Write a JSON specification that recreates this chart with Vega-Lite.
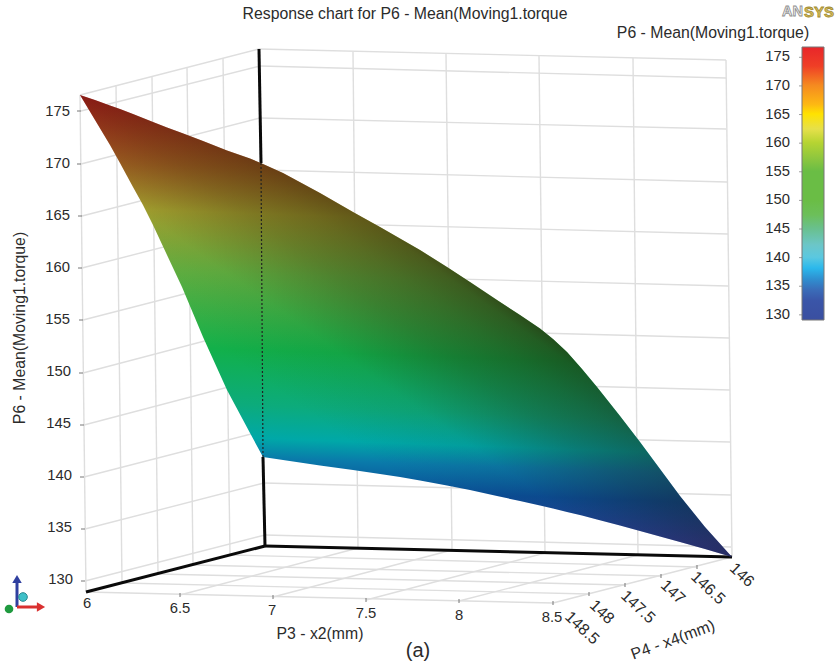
{
"$schema":"https://vega.github.io/schema/vega-lite/v6.json",
"width":836,"height":669,"padding":0,"autosize":{"type":"none"},"background":"white",
"config":{"view":{"stroke":null},"text":{"font":"Liberation Sans","fontSize":14.8,"color":"#2b2b2b"}},
"datasets":{
"surface":[{"px":80,"top":95,"bot":95},{"px":95,"top":100,"bot":120},{"px":110,"top":105.5,"bot":145},{"px":120,"top":109,"bot":163},{"px":133,"top":114,"bot":187},{"px":143,"top":118,"bot":205},{"px":153,"top":122,"bot":225},{"px":167,"top":127.5,"bot":255},{"px":182,"top":133,"bot":287},{"px":203,"top":141,"bot":337},{"px":227,"top":150.5,"bot":390},{"px":250,"top":158.5,"bot":433},{"px":263,"top":164,"bot":457},{"px":283,"top":173,"bot":460},{"px":320,"top":193,"bot":465.5},{"px":353,"top":212,"bot":470},{"px":380,"top":227,"bot":474},{"px":400,"top":238.5,"bot":477},{"px":420,"top":250,"bot":480.5},{"px":447,"top":267,"bot":485.5},{"px":470,"top":282,"bot":490},{"px":497,"top":300,"bot":496},{"px":520,"top":315,"bot":501},{"px":540,"top":328.5,"bot":505.5},{"px":553,"top":339,"bot":508.5},{"px":567,"top":352,"bot":512},{"px":582,"top":369,"bot":515.5},{"px":597,"top":387,"bot":519.5},{"px":620,"top":416,"bot":525.5},{"px":640,"top":442,"bot":531},{"px":660,"top":469,"bot":536.5},{"px":680,"top":496,"bot":542},{"px":705,"top":527,"bot":549},{"px":732,"top":557,"bot":557}],
"grid":[
{"px":80,"py":95,"qx":86,"qy":592},{"px":726,"py":60,"qx":732,"qy":557},{"px":80,"py":95,"qx":259,"qy":49},{"px":259,"py":49,"qx":726,"qy":60},
{"px":116,"py":85,"qx":122,"qy":583},{"px":152,"py":77,"qx":158,"qy":574},{"px":187,"py":67,"qx":193,"qy":565},{"px":223,"py":58,"qx":230,"qy":555},
{"px":353,"py":52,"qx":358,"qy":548},{"px":446,"py":54,"qx":452,"qy":550},{"px":539,"py":56,"qx":545,"qy":553},{"px":633,"py":58,"qx":638,"qy":555},
{"px":81,"py":111,"qx":260,"qy":66},{"px":81,"py":164,"qx":260,"qy":118},{"px":82,"py":216,"qx":261,"qy":170},{"px":82,"py":268,"qx":261,"qy":222},{"px":83,"py":320,"qx":262,"qy":274},{"px":83,"py":373,"qx":262,"qy":326},{"px":84,"py":425,"qx":263,"qy":378},{"px":84,"py":477,"qx":263,"qy":431},{"px":85,"py":529,"qx":264,"qy":483},{"px":85,"py":581,"qx":265,"qy":535},
{"px":260,"py":66,"qx":726,"qy":78},{"px":260,"py":118,"qx":726,"qy":129},{"px":261,"py":170,"qx":727,"qy":182},{"px":261,"py":222,"qx":728,"qy":234},{"px":262,"py":274,"qx":728,"qy":286},{"px":262,"py":326,"qx":729,"qy":338},{"px":263,"py":378,"qx":730,"qy":390},{"px":263,"py":431,"qx":730,"qy":442},{"px":264,"py":483,"qx":731,"qy":495},{"px":265,"py":535,"qx":731,"qy":547},
{"px":180,"py":595,"qx":358,"qy":548},{"px":273,"py":597,"qx":452,"qy":550},{"px":366,"py":600,"qx":545,"qy":553},{"px":459,"py":601,"qx":638,"qy":555},{"px":553,"py":603,"qx":732,"qy":557},
{"px":230,"py":555,"qx":697,"qy":567},{"px":193,"py":565,"qx":661,"qy":576},{"px":158,"py":574,"qx":625,"qy":585},{"px":122,"py":583,"qx":589,"qy":594},{"px":86,"py":592,"qx":553,"qy":603}],
"ticks":[
{"px":77,"py":111,"qx":81,"qy":111},{"px":77,"py":164,"qx":81,"qy":164},{"px":78,"py":216,"qx":82,"qy":216},{"px":78,"py":268,"qx":82,"qy":268},{"px":79,"py":320,"qx":83,"qy":320},{"px":79,"py":373,"qx":83,"qy":373},{"px":80,"py":425,"qx":84,"qy":425},{"px":80,"py":477,"qx":84,"qy":477},{"px":81,"py":529,"qx":85,"qy":529},{"px":81,"py":581,"qx":85,"qy":581},
{"px":180,"py":593,"qx":180,"qy":597},{"px":273,"py":595,"qx":273,"qy":599},{"px":366,"py":598,"qx":366,"qy":602},{"px":459,"py":599,"qx":459,"qy":603},{"px":553,"py":601,"qx":553,"qy":605},
{"px":697,"py":565,"qx":697,"qy":569},{"px":661,"py":574,"qx":661,"qy":578},{"px":625,"py":583,"qx":625,"qy":587},{"px":589,"py":592,"qx":589,"qy":596}],
"axes":[{"px":259,"py":49,"qx":261,"qy":163},{"px":263,"py":457,"qx":265,"qy":546},{"px":86,"py":592,"qx":265,"qy":546},{"px":265,"py":546,"qx":732,"qy":557}],
"zlabels":[{"px":70,"py":112,"t":"175"},{"px":70,"py":164,"t":"170"},{"px":70,"py":216,"t":"165"},{"px":70,"py":268,"t":"160"},{"px":70,"py":320,"t":"155"},{"px":71,"py":372,"t":"150"},{"px":71,"py":424,"t":"145"},{"px":72,"py":476,"t":"140"},{"px":72,"py":528,"t":"135"},{"px":73,"py":580,"t":"130"}],
"xlabels":[{"px":87,"py":604,"t":"6"},{"px":180,"py":609,"t":"6.5"},{"px":272,"py":611,"t":"7"},{"px":366,"py":614,"t":"7.5"},{"px":459,"py":616,"t":"8"},{"px":552,"py":618,"t":"8.5"}],
"titles":[{"px":320,"py":634,"t":"P3 - x2(mm)"},{"px":405,"py":14,"t":"Response chart for P6 - Mean(Moving1.torque"},{"px":713,"py":33,"t":"P6 - Mean(Moving1.torque)"}],
"p4labels":[{"px":742,"py":575,"t":"146"},{"px":708,"py":588,"t":"146.5"},{"px":673,"py":592,"t":"147"},{"px":638,"py":607,"t":"147.5"},{"px":602,"py":612,"t":"148"},{"px":582,"py":628,"t":"148.5"}],
"bar":[{"torque":130},{"torque":135},{"torque":140},{"torque":145},{"torque":150},{"torque":155},{"torque":160},{"torque":165},{"torque":170},{"torque":175}]
},
"resolve":{"scale":{"y":"independent"}},
"layer":[
{"encoding":{"x":{"field":"px","type":"quantitative","scale":{"domain":[0,836],"range":[0,836]},"axis":null},"y":{"field":"py","type":"quantitative","scale":{"domain":[0,669],"range":[0,669]},"axis":null},"x2":{"field":"qx"},"y2":{"field":"qy"}},
"layer":[
{"data":{"name":"grid"},"mark":{"type":"rule","color":"#dedede","strokeWidth":1.4}},
{"data":{"name":"ticks"},"mark":{"type":"rule","color":"#777","strokeWidth":1}},
{"data":{"name":"axes"},"mark":{"type":"rule","color":"#0a0a0a","strokeWidth":3}},
{"data":{"name":"surface"},"mark":{"type":"area","color":{"gradient":"linear","x1":0.05,"y1":0,"x2":0,"y2":1,"stops":[{"offset":0,"color":"#b81e1e"},{"offset":0.147,"color":"#ae6a26"},{"offset":0.245,"color":"#aaa832"},{"offset":0.375,"color":"#62b342"},{"offset":0.54,"color":"#12b04a"},{"offset":0.66,"color":"#0cab7c"},{"offset":0.73,"color":"#00a8a8"},{"offset":0.773,"color":"#0a7aaa"},{"offset":0.835,"color":"#0a4e98"},{"offset":0.92,"color":"#2a3f96"},{"offset":1,"color":"#2e2f86"}]}},
 "encoding":{"x2":null,"y2":{"field":"bot"},"y":{"field":"top","type":"quantitative","scale":{"domain":[0,669],"range":[0,669]},"axis":null}}},
{"data":{"name":"surface"},"mark":{"type":"area","color":{"gradient":"linear","x1":0,"y1":1,"x2":1,"y2":0,"stops":[{"offset":0,"color":"rgba(30,15,0,0)"},{"offset":0.33,"color":"rgba(30,15,0,0)"},{"offset":0.42,"color":"rgba(30,15,0,0.07)"},{"offset":0.5,"color":"rgba(30,15,0,0.3)"},{"offset":0.55,"color":"rgba(30,15,0,0.42)"},{"offset":0.585,"color":"rgba(30,15,0,0.52)"},{"offset":0.6,"color":"rgba(30,15,0,0.62)"},{"offset":0.63,"color":"rgba(30,15,0,0.72)"},{"offset":1,"color":"rgba(30,15,0,0.8)"}]}},
 "encoding":{"x2":null,"y2":{"field":"bot"},"y":{"field":"top","type":"quantitative","scale":{"domain":[0,669],"range":[0,669]},"axis":null}}},
{"data":{"values":[{"px":261,"py":163,"qx":263,"qy":457}]},"mark":{"type":"rule","color":"#222","strokeWidth":1.2,"strokeDash":[2,2]}},
{"data":{"name":"zlabels"},"mark":{"type":"text","align":"right","baseline":"middle"},"encoding":{"x2":null,"y2":null,"text":{"field":"t"}}},
{"data":{"name":"xlabels"},"mark":{"type":"text","align":"center","baseline":"middle"},"encoding":{"x2":null,"y2":null,"text":{"field":"t"}}},
{"data":{"name":"titles"},"mark":{"type":"text","align":"center","baseline":"middle","fontSize":15.8},"encoding":{"x2":null,"y2":null,"text":{"field":"t"}}},
{"data":{"name":"p4labels"},"mark":{"type":"text","align":"center","baseline":"middle","angle":43,"fontSize":16},"encoding":{"x2":null,"y2":null,"text":{"field":"t"}}},
{"data":{"values":[{"px":673,"py":640,"t":"P4 - x4(mm)"}]},"mark":{"type":"text","align":"center","baseline":"middle","angle":340,"fontSize":16},"encoding":{"x2":null,"y2":null,"text":{"field":"t"}}},
{"data":{"values":[{"px":20,"py":328,"t":"P6 - Mean(Moving1.torque)"}]},"mark":{"type":"text","align":"center","baseline":"middle","angle":270,"fontSize":15.8},"encoding":{"x2":null,"y2":null,"text":{"field":"t"}}},
{"data":{"values":[{"px":418,"py":651,"t":"(a)"}]},"mark":{"type":"text","align":"center","baseline":"middle","fontSize":20},"encoding":{"x2":null,"y2":null,"text":{"field":"t"}}},
{"data":{"values":[{"px":782,"py":12,"t":"AN"}]},"mark":{"type":"text","align":"left","baseline":"middle","fontSize":14.5,"fontWeight":"bold","color":"#f2f2f2","stroke":"#8f8f8f","strokeWidth":0.8},"encoding":{"x2":null,"y2":null,"text":{"field":"t"}}},
{"data":{"values":[{"px":804,"py":12,"t":"SYS"}]},"mark":{"type":"text","align":"left","baseline":"middle","fontSize":15,"fontWeight":"bold","color":"#d8c060","stroke":"#a08a30","strokeWidth":0.8},"encoding":{"x2":null,"y2":null,"text":{"field":"t"}}},
{"data":{"values":[{"px":17,"py":607,"qx":17,"qy":580}]},"mark":{"type":"rule","color":"#2f3f9f","strokeWidth":3}},
{"data":{"values":[{"px":17,"py":607,"qx":40,"qy":607}]},"mark":{"type":"rule","color":"#d9302f","strokeWidth":3}},
{"data":{"values":[{"px":17,"py":579}]},"mark":{"type":"point","shape":"triangle-up","filled":true,"opacity":1,"size":90,"color":"#2f3f9f"},"encoding":{"x2":null,"y2":null}},
{"data":{"values":[{"px":41,"py":607}]},"mark":{"type":"point","shape":"triangle-right","filled":true,"opacity":1,"size":90,"color":"#d9302f"},"encoding":{"x2":null,"y2":null}},
{"data":{"values":[{"px":9,"py":609}]},"mark":{"type":"point","shape":"circle","filled":true,"opacity":1,"size":75,"color":"#1f9a3f"},"encoding":{"x2":null,"y2":null}},
{"data":{"values":[{"px":23,"py":597}]},"mark":{"type":"point","shape":"circle","filled":true,"opacity":1,"size":75,"color":"#3fc0c8","stroke":"#2a8890","strokeWidth":1},"encoding":{"x2":null,"y2":null}}
]},
{"encoding":{"y":{"field":"torque","type":"quantitative","scale":{"domain":[129.1,176.8],"range":[320,47]},"axis":null}},
"layer":[
{"data":{"values":[{"px":802,"qx":824,"torque":129.1,"top":176.8}]},"mark":{"type":"rect","stroke":"#777","strokeWidth":1,"color":{"gradient":"linear","x1":0,"y1":0,"x2":0,"y2":1,"stops":[{"offset":0,"color":"#e8262a"},{"offset":0.07,"color":"#ef3f26"},{"offset":0.14,"color":"#f58a20"},{"offset":0.21,"color":"#fdb813"},{"offset":0.245,"color":"#ffe200"},{"offset":0.3,"color":"#e6e04a"},{"offset":0.35,"color":"#b6d432"},{"offset":0.41,"color":"#8cc63f"},{"offset":0.455,"color":"#6abd45"},{"offset":0.56,"color":"#6abd45"},{"offset":0.615,"color":"#6cbf5a"},{"offset":0.665,"color":"#69c08e"},{"offset":0.725,"color":"#6cc6c8"},{"offset":0.77,"color":"#5bc8e0"},{"offset":0.81,"color":"#2bb8ec"},{"offset":0.85,"color":"#2f8fd0"},{"offset":0.89,"color":"#3a6cb8"},{"offset":0.93,"color":"#3a55a8"},{"offset":1,"color":"#3a4fa0"}]}},
 "encoding":{"x":{"field":"px","type":"quantitative","scale":{"domain":[0,836],"range":[0,836]},"axis":null},"x2":{"field":"qx"},"y2":{"field":"top"}}},
{"data":{"name":"bar"},"mark":{"type":"tick","orient":"horizontal","color":"#777","size":3,"thickness":1},"encoding":{"x":{"datum":800.5,"type":"quantitative","scale":{"domain":[0,836],"range":[0,836]},"axis":null}}},
{"data":{"name":"bar"},"mark":{"type":"text","align":"right","baseline":"middle"},"encoding":{"x":{"datum":790,"type":"quantitative","scale":{"domain":[0,836],"range":[0,836]},"axis":null},"text":{"field":"torque","type":"quantitative"}}}
]}
]
}
